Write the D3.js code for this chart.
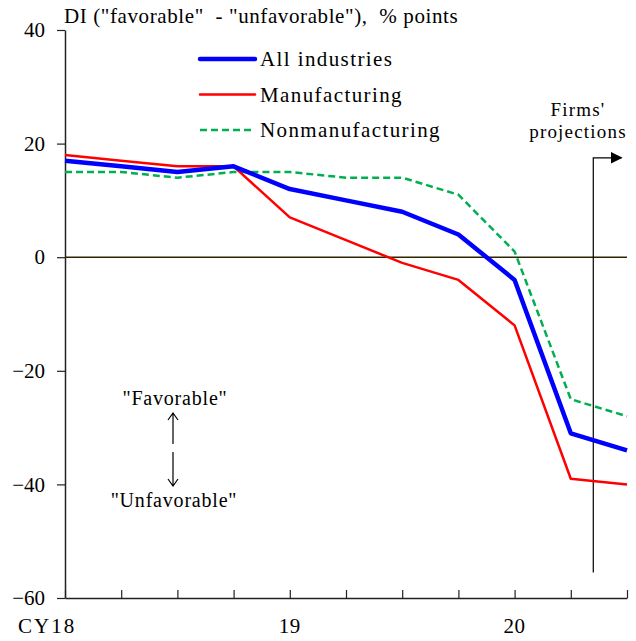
<!DOCTYPE html>
<html>
<head>
<meta charset="utf-8">
<script src="https://cdn.jsdelivr.net/npm/d3@7"></script>
<style>
  body { margin: 0; background: #fff; }
  svg text { font-family: "Liberation Serif", "DejaVu Serif", serif; fill: #000; }
</style>
</head>
<body>
<script>
// quarters, CY2018 Q1 .. CY2020 Q3 (last point = firms' projections)
const QUARTERS = [0, 1, 2, 3, 4, 5, 6, 7, 8, 9, 10];
const ALL_IND = [17, 16, 15, 16, 12, 10, 8, 4, -4, -31, -34];
const MANUF = [18, 17, 16, 16, 7, 3, -1, -4, -12, -39, -40];
const NONMANUF = [15, 15, 14, 15, 15, 14, 14, 11, 1, -25, -28];
const Y_TICKS = [40, 20, 0, -20, -40, -60];
const YEAR_LABELS = [{ q: 0, label: "CY18" }, { q: 4, label: "19" }, { q: 8, label: "20" }];

const SERIES = [
  { name: "All industries", values: ALL_IND, color: "#0000ff", width: 4.5, dash: null },
  { name: "Manufacturing", values: MANUF, color: "#ff0000", width: 2.5, dash: null },
  { name: "Nonmanufacturing", values: NONMANUF, color: "#00b050", width: 2.5, dash: "7,4" }
];

const FONT = "Liberation Serif, DejaVu Serif, serif";
const width = 636, height = 641;
const margin = { left: 65, right: 9, top: 30, bottom: 43 };

const svg = d3.select("body").append("svg")
  .attr("width", width)
  .attr("height", height);

const x = d3.scaleLinear()
  .domain([0, 10])
  .range([margin.left, width - margin.right]);

const y = d3.scaleLinear()
  .domain([-60, 40])
  .range([height - margin.bottom, margin.top]);

// y axis
const yAxis = d3.axisLeft(y)
  .tickValues(Y_TICKS)
  .tickSize(8)
  .tickSizeOuter(0)
  .tickFormat(d3.format("d"));
const gy = svg.append("g")
  .attr("transform", `translate(${margin.left},0)`)
  .call(yAxis)
  .attr("font-family", FONT);
gy.select(".domain").attr("stroke", "#222").attr("stroke-width", 1.5);
gy.selectAll(".tick line").attr("stroke", "#222").attr("stroke-width", 1.2);
gy.selectAll(".tick text")
  .attr("x", -20)
  .attr("font-family", FONT)
  .style("font-size", "21px");

// x axis (ticks point inward)
const xAxis = d3.axisBottom(x)
  .tickValues(QUARTERS)
  .tickSize(-8)
  .tickSizeOuter(0)
  .tickFormat("");
const gx = svg.append("g")
  .attr("transform", `translate(0,${y(-60)})`)
  .call(xAxis);
gx.select(".domain").attr("stroke", "#222").attr("stroke-width", 1.5);
gx.selectAll(".tick line").attr("stroke", "#222").attr("stroke-width", 1.2);

svg.append("g")
  .selectAll("text")
  .data(YEAR_LABELS)
  .enter()
  .append("text")
  .attr("x", d => x(d.q))
  .attr("y", y(-60) + 35)
  .attr("text-anchor", d => (d.q === 0 ? "start" : "middle"))
  .attr("dx", d => (d.q === 0 ? -47 : 0))
  .attr("font-family", FONT)
  .style("font-size", "21px")
  .style("letter-spacing", d => (d.q === 0 ? "2px" : "0.5px"))
  .text(d => d.label);

// zero line
svg.append("line")
  .attr("x1", x(0))
  .attr("x2", x(10))
  .attr("y1", y(0))
  .attr("y2", y(0))
  .attr("stroke", "#2e2600")
  .attr("stroke-width", 1.4);

// projections marker
const projX = x(9.4);
svg.append("defs").append("marker")
  .attr("id", "tri")
  .attr("viewBox", "0 0 10 10")
  .attr("refX", 9)
  .attr("refY", 5)
  .attr("markerWidth", 12)
  .attr("markerHeight", 12)
  .attr("markerUnits", "userSpaceOnUse")
  .attr("orient", "auto")
  .append("path")
  .attr("d", "M0,0 L10,5 L0,10 Z")
  .attr("fill", "#000");

svg.append("path")
  .attr("d", `M${projX},${y(-55.5)} L${projX},${y(17.5)} L${x(9.9)},${y(17.5)}`)
  .attr("fill", "none")
  .attr("stroke", "#000")
  .attr("stroke-width", 1.2)
  .attr("marker-end", "url(#tri)");

svg.append("text")
  .attr("x", 578)
  .attr("y", 116)
  .attr("text-anchor", "middle")
  .attr("font-family", FONT)
  .style("font-size", "19px")
  .style("letter-spacing", "1.2px")
  .text("Firms'");
svg.append("text")
  .attr("x", 578)
  .attr("y", 138)
  .attr("text-anchor", "middle")
  .attr("font-family", FONT)
  .style("font-size", "19px")
  .style("letter-spacing", "1.2px")
  .text("projections");

// lines
const line = d3.line()
  .x((d, i) => x(QUARTERS[i]))
  .y(d => y(d));

svg.append("g")
  .selectAll("path")
  .data(SERIES.slice().reverse())
  .enter()
  .append("path")
  .attr("d", d => line(d.values))
  .attr("fill", "none")
  .attr("stroke", d => d.color)
  .attr("stroke-width", d => d.width)
  .attr("stroke-dasharray", d => d.dash)
  .attr("stroke-linejoin", "round");

// legend
const legend = svg.append("g")
  .selectAll("g")
  .data(SERIES)
  .enter()
  .append("g")
  .attr("transform", (d, i) => `translate(200,${59 + i * 35.5})`);
legend.append("line")
  .attr("x1", 0)
  .attr("x2", 55)
  .attr("stroke", d => d.color)
  .attr("stroke-width", d => d.width)
  .attr("stroke-dasharray", d => d.dash)
  .attr("stroke-linecap", d => (d.dash ? "butt" : "round"));
legend.append("text")
  .attr("x", 60)
  .attr("y", 7)
  .attr("font-family", FONT)
  .style("font-size", "21px")
  .style("letter-spacing", "1.4px")
  .text(d => d.name);

// title
svg.append("text")
  .attr("x", 64)
  .attr("y", 23)
  .attr("font-family", FONT)
  .style("font-size", "21px")
  .style("letter-spacing", "0.6px")
  .style("white-space", "pre")
  .text('DI ("favorable"  - "unfavorable"),  % points');

// favorable / unfavorable annotation
svg.append("text")
  .attr("x", 175)
  .attr("y", 405)
  .attr("text-anchor", "middle")
  .attr("font-family", FONT)
  .style("font-size", "20px")
  .style("letter-spacing", "0.8px")
  .text('"Favorable"');
svg.append("text")
  .attr("x", 174)
  .attr("y", 507)
  .attr("text-anchor", "middle")
  .attr("font-family", FONT)
  .style("font-size", "20px")
  .style("letter-spacing", "0.8px")
  .text('"Unfavorable"');

const arr = svg.append("g")
  .attr("fill", "none")
  .attr("stroke", "#000")
  .attr("stroke-width", 1.2);
arr.append("path").attr("d", "M173,444 L173,413 M168,420 L173,413 L178,420");
arr.append("path").attr("d", "M173,452 L173,486 M168,479 L173,486 L178,479");
</script>
</body>
</html>
